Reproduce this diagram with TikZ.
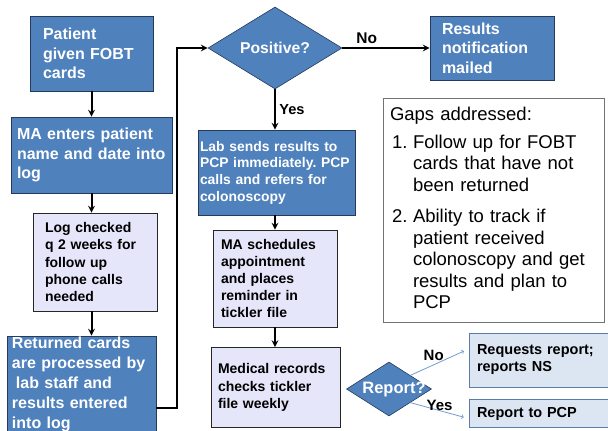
\documentclass[tikz,border=0pt]{standalone}
\usepackage{fontspec}
\setmainfont{Liberation Sans}
\usepackage{xcolor}
\usepackage{tikz}
\usetikzlibrary{shapes.geometric}
\frenchspacing

\definecolor{boxblue}{RGB}{79,129,189}
\definecolor{edgeblue}{RGB}{38,58,90}
\definecolor{lavbox}{RGB}{230,230,250}
\definecolor{paleblue}{RGB}{220,230,242}
\definecolor{thinblue}{RGB}{115,155,210}

\begin{document}
\begin{tikzpicture}[x=1pt, y=-1pt,
		bluebox/.style={draw=edgeblue, line width=0.8pt, fill=boxblue, text=white, align=left, inner ysep=0pt, font=\bfseries\fontsize{16}{19.5}\selectfont},
		lilacbox/.style={draw=black!85, line width=0.8pt, fill=lavbox, align=left, inner ysep=0pt, font=\bfseries\fontsize{14}{17.2}\selectfont},
		palebox/.style={draw=thinblue!80!black, line width=0.8pt, fill=paleblue, align=left, inner ysep=0pt, text width=126pt, inner xsep=8pt, font=\bfseries\fontsize{14.5}{17}\selectfont},
		decision/.style={diamond, draw=edgeblue, line width=0.6pt, fill=boxblue, text=white, inner sep=0pt},
		answer/.style={font=\bfseries\fontsize{15.5}{18}\selectfont, text=black}]
	\useasboundingbox (0,0) rectangle (608,431);
	
	\node [bluebox, text width=97pt, inner xsep=13pt, minimum height=75pt] (pat) at (91.5,53.5) {Patient\\given FOBT\\cards};
	\node [bluebox, text width=149pt, inner xsep=6pt, minimum height=76pt] (ma) at (91.5,155) {MA enters patient\\name and date into\\log};
	\node [lilacbox, text width=100pt, inner xsep=12pt, minimum height=98pt] (logchk) at (95,262) {Log checked\\q 2 weeks for\\follow up\\phone calls\\needed};
	\node [bluebox, text width=139pt, inner xsep=5pt, minimum height=96pt, font=\bfseries\fontsize{16}{20}\selectfont] (ret) at (81.5,384) {Returned cards\\are processed by\\\hspace*{4pt}lab staff and\\results entered\\into log};
	
	\node [decision, minimum width=134pt, minimum height=82pt, font=\bfseries\fontsize{15.7}{18}\selectfont] (pos) at (275,48) {\makebox[0pt]{Positive?}};
	\node [bluebox, text width=100pt, inner xsep=12pt, minimum height=64pt] (res) at (492,48) {Results\\notification\\mailed};
	\node [bluebox, text width=153pt, inner xsep=2pt, minimum height=85pt, font=\bfseries\fontsize{13.9}{16.7}\selectfont] (labs) at (276.5,172.5) {Lab sends results to\\PCP immediately. PCP\\calls and refers for\\colonoscopy};
	\node [lilacbox, text width=108pt, inner xsep=8pt, minimum height=97pt] (masch) at (275,278.5) {MA schedules\\appointment\\and places\\reminder in\\tickler file};
	\node [lilacbox, text width=115pt, inner xsep=7pt, minimum height=80pt] (medrec) at (275.5,387.5) {Medical records\\checks tickler\\file weekly};
	
	\node [decision, minimum width=85pt, minimum height=54pt, font=\bfseries\fontsize{16.5}{18}\selectfont] (rep) at (389,389) {\makebox[0pt]{\hspace*{10pt}Report?}};
	\node [palebox, minimum height=54pt] (req) at (540,360) {Requests report;\\reports NS};
	\node [palebox, minimum height=28pt] (rpt) at (540,413.5) {Report to PCP};
	
	\node [draw=black!55, line width=0.8pt, fill=white, text width=213pt, inner xsep=4pt, minimum height=224pt, align=left, font=\fontsize{18.5}{21.5}\selectfont] (gaps) at (493.5,210.5) {%
		\begin{tabular}{@{\hspace{5pt}}p{13pt}@{\hspace{8pt}}l@{}}
			\multicolumn{2}{@{\hspace{3pt}}l@{}}{Gaps addressed:}\\[6pt]
			1. & Follow up for FOBT\\
			 & cards that have not\\
			 & been returned\\[10pt]
			2. & Ability to track if\\
			 & patient received\\
			 & colonoscopy and get\\
			 & results and plan to\\
			 & PCP
		\end{tabular}};
	
	\coordinate (turn) at (177,48);
	
	\begin{scope}[line width=2pt, -stealth]
		\draw (pat) -- (ma);
		\draw (ma) -- (ma |- logchk.north);
		\draw (logchk.south -| ma) -- (ret.north -| ma);
		\draw ([yshift=-24pt]ret.east) -| (turn) -- (pos);
		\draw (pos) -- (res) node [pos=0.28, above, answer] {No};
		\draw (pos) -- (pos |- labs.north) node [midway, right, answer, font=\bfseries\fontsize{14.6}{18}\selectfont] {Yes};
		\draw (masch |- labs.south) -- (masch);
		\draw (masch) -- (masch |- medrec.north);
	\end{scope}
	
	\begin{scope}[thinblue, line width=0.8pt, ->, shorten >=5pt]
		\draw (rep.north east) -- ([yshift=11pt]req.west) node [pos=0.4, above, answer, font=\bfseries\fontsize{15}{18}\selectfont] {No};
		\draw (rep.south east) -- ([yshift=-5pt]rpt.west) node [pos=0.5, above, inner sep=0pt, answer, font=\bfseries\fontsize{15}{18}\selectfont] {Yes};
	\end{scope}
\end{tikzpicture}
\end{document}
